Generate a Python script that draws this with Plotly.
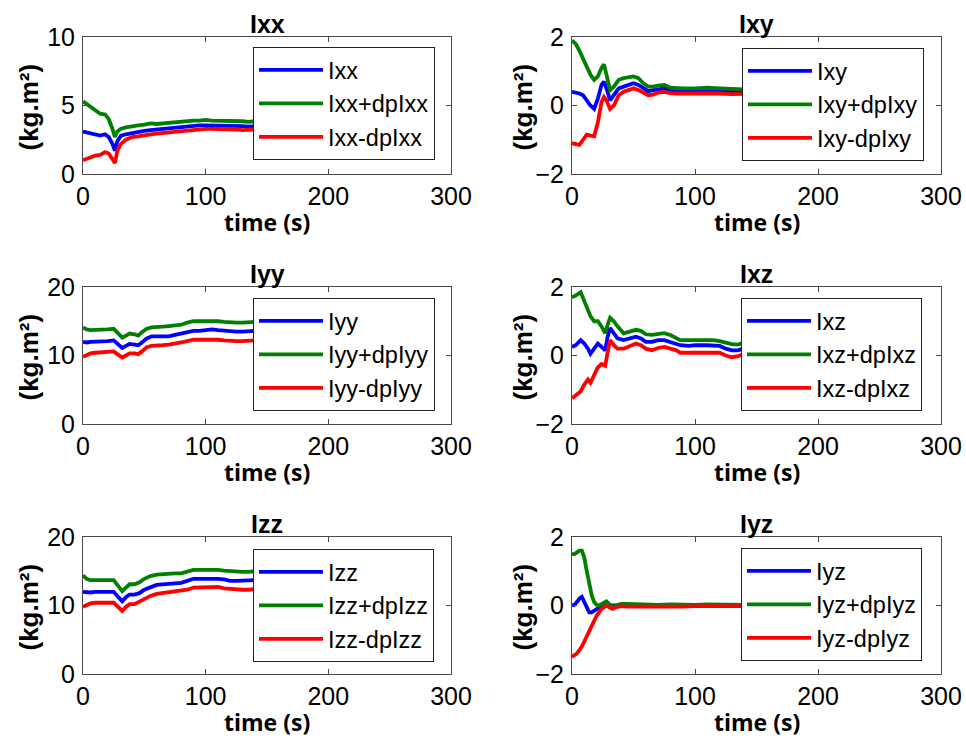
import plotly.graph_objects as go

# ---------------- data ----------------
t_ixx = [0, 3, 6, 10, 14, 18, 21, 24, 26, 28, 31, 35, 40, 45, 50, 55, 60, 65, 70, 75, 80, 85, 90, 95, 100, 105, 110, 115, 120, 125, 130, 135, 140]
ixx = [3.1, 3.05, 3.0, 2.9, 2.8, 2.9, 2.7, 2.2, 1.7, 2.4, 2.8, 2.9, 3.0, 3.1, 3.15, 3.2, 3.25, 3.3, 3.3, 3.35, 3.4, 3.45, 3.5, 3.55, 3.55, 3.55, 3.55, 3.5, 3.5, 3.5, 3.5, 3.45, 3.5]
ixx_p = [5.3, 5.1, 4.9, 4.6, 4.4, 4.35, 4.0, 3.3, 2.7, 3.1, 3.3, 3.4, 3.5, 3.55, 3.6, 3.7, 3.65, 3.7, 3.75, 3.8, 3.8, 3.85, 3.9, 3.9, 3.95, 3.9, 3.9, 3.9, 3.85, 3.85, 3.85, 3.8, 3.85]
ixx_m = [1.0, 1.1, 1.2, 1.35, 1.4, 1.6, 1.5, 1.0, 0.8, 1.7, 2.2, 2.5, 2.7, 2.75, 2.85, 2.9, 2.95, 3.0, 3.05, 3.1, 3.1, 3.15, 3.2, 3.25, 3.3, 3.3, 3.3, 3.25, 3.25, 3.25, 3.2, 3.2, 3.25]

t_ixy = [0, 3, 6, 9, 12, 15, 18, 21, 24, 26, 28, 31, 34, 38, 42, 46, 50, 54, 58, 62, 66, 70, 75, 80, 85, 90, 100, 110, 120, 130, 140]
ixy = [0.4, 0.38, 0.35, 0.3, 0.15, 0.0, -0.1, 0.2, 0.6, 0.7, 0.5, 0.15, 0.3, 0.5, 0.55, 0.6, 0.65, 0.6, 0.5, 0.42, 0.45, 0.48, 0.5, 0.45, 0.42, 0.42, 0.42, 0.43, 0.42, 0.42, 0.42]
ixy_p = [1.9, 1.8, 1.6, 1.35, 1.1, 0.9, 0.75, 0.85, 1.1, 1.2, 0.9, 0.45, 0.55, 0.75, 0.8, 0.82, 0.85, 0.8, 0.65, 0.55, 0.55, 0.58, 0.6, 0.52, 0.5, 0.5, 0.5, 0.52, 0.5, 0.48, 0.47]
ixy_m = [-1.1, -1.12, -1.15, -1.0, -0.85, -0.88, -0.9, -0.5, 0.1, 0.25, 0.15, -0.1, 0.0, 0.3, 0.4, 0.45, 0.5, 0.45, 0.38, 0.3, 0.32, 0.38, 0.4, 0.36, 0.35, 0.35, 0.35, 0.36, 0.35, 0.33, 0.34]

t_iyy = [0, 3, 6, 10, 15, 20, 25, 28, 32, 35, 38, 42, 45, 48, 52, 56, 60, 65, 70, 75, 80, 85, 90, 95, 100, 105, 110, 115, 120, 125, 130, 135, 140]
iyy = [12.0, 11.9, 12.0, 12.0, 12.1, 12.1, 12.2, 11.7, 11.1, 11.4, 11.7, 11.6, 11.5, 11.9, 12.5, 12.8, 12.8, 12.7, 12.8, 13.0, 13.2, 13.4, 13.6, 13.6, 13.7, 13.8, 13.7, 13.6, 13.5, 13.5, 13.5, 13.5, 13.6]
iyy_p = [14.1, 13.8, 13.7, 13.7, 13.8, 13.8, 13.9, 13.3, 12.6, 12.9, 13.2, 13.1, 12.9, 13.4, 13.9, 14.1, 14.2, 14.2, 14.3, 14.4, 14.5, 14.8, 15.0, 15.0, 15.0, 15.1, 15.0, 14.9, 14.8, 14.8, 14.8, 14.8, 14.9]
iyy_m = [9.8, 10.1, 10.3, 10.4, 10.5, 10.6, 10.6, 10.2, 9.7, 10.0, 10.3, 10.3, 10.2, 10.6, 11.2, 11.4, 11.4, 11.5, 11.6, 11.7, 11.9, 12.1, 12.3, 12.3, 12.3, 12.4, 12.3, 12.2, 12.1, 12.1, 12.1, 12.1, 12.2]

t_ixz = [0, 3, 7, 10, 13, 15, 18, 21, 24, 27, 29, 31, 34, 37, 42, 47, 52, 56, 60, 65, 70, 75, 80, 85, 88, 95, 100, 110, 115, 120, 125, 130, 135, 140]
ixz = [0.25, 0.3, 0.45, 0.35, 0.2, 0.05, 0.2, 0.35, 0.25, 0.15, 0.55, 0.8, 0.65, 0.5, 0.45, 0.5, 0.55, 0.5, 0.4, 0.4, 0.45, 0.45, 0.4, 0.35, 0.3, 0.28, 0.3, 0.3, 0.3, 0.28, 0.2, 0.15, 0.15, 0.22]
ixz_p = [1.7, 1.75, 1.85, 1.6, 1.3, 1.15, 1.0, 1.0, 0.85, 0.65, 0.9, 1.1, 1.0, 0.85, 0.65, 0.7, 0.75, 0.72, 0.62, 0.6, 0.62, 0.65, 0.6, 0.5, 0.45, 0.45, 0.45, 0.45, 0.45, 0.42, 0.38, 0.33, 0.32, 0.38]
ixz_m = [-1.25, -1.15, -1.05, -0.85, -0.7, -0.8, -0.6, -0.35, -0.25, -0.3, 0.1, 0.45, 0.3, 0.2, 0.2, 0.28, 0.35, 0.3, 0.2, 0.15, 0.22, 0.25, 0.2, 0.15, 0.08, 0.08, 0.1, 0.1, 0.1, 0.08, 0.0, -0.05, -0.02, 0.05]

t_izz = [0, 3, 6, 10, 15, 20, 25, 28, 32, 35, 38, 42, 46, 50, 55, 60, 65, 70, 75, 80, 85, 90, 95, 100, 105, 110, 115, 120, 125, 130, 135, 140]
izz = [12.0, 11.9, 11.9, 12.0, 12.0, 12.0, 12.0, 11.4, 10.6, 11.2, 11.6, 11.6, 11.8, 12.3, 12.7, 13.0, 13.1, 13.2, 13.2, 13.3, 13.6, 13.9, 13.9, 13.9, 14.0, 13.9, 13.8, 13.6, 13.6, 13.6, 13.6, 13.7]
izz_p = [14.4, 13.9, 13.7, 13.7, 13.7, 13.7, 13.7, 13.0, 12.1, 12.6, 13.1, 13.1, 13.4, 13.9, 14.3, 14.5, 14.6, 14.7, 14.7, 14.7, 14.9, 15.2, 15.2, 15.2, 15.3, 15.2, 15.1, 15.0, 15.0, 14.9, 14.9, 15.0]
izz_m = [9.8, 10.1, 10.3, 10.4, 10.4, 10.4, 10.4, 9.9, 9.2, 9.8, 10.2, 10.2, 10.6, 11.0, 11.4, 11.7, 11.8, 11.9, 12.0, 12.1, 12.3, 12.6, 12.6, 12.6, 12.7, 12.7, 12.5, 12.4, 12.3, 12.3, 12.3, 12.4]

t_iyz = [0, 2, 4, 6, 8, 10, 12, 14, 16, 18, 20, 22, 24, 26, 28, 30, 33, 36, 40, 45, 50, 60, 70, 80, 90, 100, 110, 120, 130, 140]
iyz = [0.0, 0.02, 0.1, 0.2, 0.25, 0.1, -0.1, -0.2, -0.2, -0.15, -0.12, -0.05, 0.0, 0.03, 0.0, 0.0, -0.02, 0.0, 0.02, 0.02, 0.01, 0.0, 0.0, 0.0, 0.0, 0.0, 0.0, 0.01, 0.0, 0.0]
iyz_p = [1.5, 1.5, 1.55, 1.6, 1.6, 1.4, 1.0, 0.6, 0.3, 0.1, 0.02, 0.0, 0.05, 0.1, 0.12, 0.05, -0.05, 0.0, 0.05, 0.05, 0.04, 0.02, 0.02, 0.03, 0.02, 0.02, 0.03, 0.03, 0.02, 0.02]
iyz_m = [-1.5, -1.45, -1.4, -1.3, -1.2, -1.05, -0.9, -0.7, -0.55, -0.45, -0.3, -0.2, -0.1, -0.05, 0.0, -0.05, -0.1, -0.05, -0.02, -0.03, -0.03, -0.05, -0.04, -0.03, -0.03, -0.02, -0.02, -0.02, -0.02, -0.02]

names = ["Ixx", "Ixy", "Iyy", "Ixz", "Izz", "Iyz"]
times = [t_ixx, t_ixy, t_iyy, t_ixz, t_izz, t_iyz]
mids = [ixx, ixy, iyy, ixz, izz, iyz]
plus = [ixx_p, ixy_p, iyy_p, ixz_p, izz_p, iyz_p]
minus = [ixx_m, ixy_m, iyy_m, ixz_m, izz_m, iyz_m]
y_ranges = [[0, 10], [-2, 2], [0, 20], [-2, 2], [0, 20], [-2, 2]]
y_ticks = [[0, 5, 10], [-2, 0, 2], [0, 10, 20], [-2, 0, 2], [0, 10, 20], [-2, 0, 2]]
x_ticks = [0, 100, 200, 300]

# ---------------- layout geometry (pixels) ----------------
W, H = 966, 740
col_px = [(83, 451), (572, 941)]
row_px = [(37, 174), (287, 424), (537, 674)]
legend_px = [(253, 47), (742, 48), (253, 298), (741, 298), (253, 549), (741, 548)]
ylab_x_px = [28, 522]

ARIAL = "Liberation Sans, Arial, sans-serif"
TICK_FONT = dict(family=ARIAL, size=25, color="black")
LEG_FONT = dict(family=ARIAL, size=23.5, color="black")
XLAB_FONT = dict(family="Open Sans, Noto Sans, sans-serif", size=23, color="black")
YLAB_FONT = dict(family=ARIAL, size=26, color="black")
AX_COLOR = "#4a4a4a"

fig = go.Figure()
annotations = []
layout = {}

for i, name in enumerate(names):
    r, c = divmod(i, 2)
    k = i + 1
    xa = "x" if k == 1 else f"x{k}"
    ya = "y" if k == 1 else f"y{k}"
    leg = "legend" if k == 1 else f"legend{k}"
    for vals, suffix, color in [
        (mids[i], "", "#0000ff"),
        (plus[i], f"+dp{name}", "#008000"),
        (minus[i], f"-dp{name}", "#ff0000"),
    ]:
        fig.add_trace(go.Scatter(
            x=times[i], y=vals, mode="lines",
            line=dict(color=color, width=3.8),
            name=name + suffix, xaxis=xa, yaxis=ya, legend=leg,
        ))
    x0, x1 = col_px[c]
    yt, yb = row_px[r]
    xd = [x0 / W, x1 / W]
    yd = [1 - yb / H, 1 - yt / H]
    common = dict(
        ticks="inside", ticklen=5, tickcolor=AX_COLOR, mirror="ticks",
        showline=True, linecolor=AX_COLOR, linewidth=1,
        showgrid=False, zeroline=False, tickfont=TICK_FONT,
        automargin=False,
    )
    layout["xaxis" if k == 1 else f"xaxis{k}"] = dict(
        domain=xd, range=[0, 300], tickvals=x_ticks, anchor=ya,
        ticklabelstandoff=0, **common,
    )
    layout["yaxis" if k == 1 else f"yaxis{k}"] = dict(
        domain=yd, range=y_ranges[i], tickvals=y_ticks[i], anchor=xa,
        ticklabelstandoff=2, **common,
    )
    lx, ly = legend_px[i]
    layout[leg] = dict(
        x=lx / W, y=1 - ly / H, xanchor="left", yanchor="top",
        xref="paper", yref="paper",
        bgcolor="white", bordercolor="#222222", borderwidth=1,
        font=LEG_FONT, itemwidth=64, traceorder="normal",
    )
    # subplot title
    annotations.append(dict(
        text=f"<b>{name}</b>", x=(x0 + x1) / 2 / W, y=1 - (yt - 13) / H,
        xref="paper", yref="paper", xanchor="center", yanchor="middle",
        showarrow=False, font=dict(family=ARIAL, size=25, color="black"),
    ))
    # x axis title
    annotations.append(dict(
        text="<b>time (s)</b>", x=(x0 + x1) / 2 / W, y=1 - (yb + 48) / H,
        xref="paper", yref="paper", xanchor="center", yanchor="middle",
        showarrow=False, font=XLAB_FONT,
    ))
    # y axis title
    annotations.append(dict(
        text="<b>(kg.m²)</b>", x=ylab_x_px[c] / W, y=1 - ((yt + yb) / 2 + 2) / H,
        xref="paper", yref="paper", xanchor="center", yanchor="middle",
        textangle=-90, showarrow=False, font=YLAB_FONT,
    ))

fig.update_layout(
    width=W, height=H,
    margin=dict(l=0, r=0, t=0, b=0, pad=0, autoexpand=False),
    paper_bgcolor="white", plot_bgcolor="white",
    showlegend=True, annotations=annotations, **layout,
)

fig.write_html("out.html")
